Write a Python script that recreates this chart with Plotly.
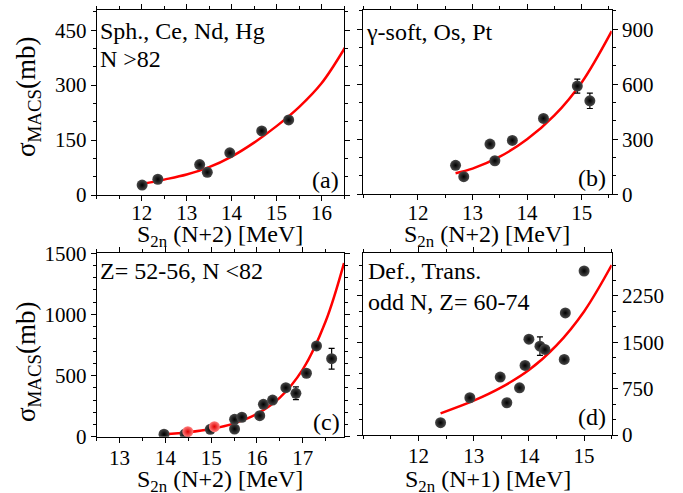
import plotly.graph_objects as go

W, H = 683, 493

# ---------------- data ----------------
# (a) Sph., Ce, Nd, Hg, N>82
a_x = [12.01, 12.36, 13.29, 13.46, 13.96, 14.67, 15.27]
a_y = [27, 43, 83, 62, 115, 175, 205]
a_fit_x = [12.01, 12.5, 13.0, 13.5, 14.0, 14.5, 15.0, 15.5, 16.0, 16.53]
a_fit_y = [30, 42, 56, 76, 105, 143, 188, 240, 305, 404]

# (b) gamma-soft, Os, Pt
b_x = [12.69, 12.84, 13.32, 13.41, 13.73, 14.30, 14.92, 15.15]
b_y = [158, 96, 274, 183, 294, 414, 590, 510]
b_err = [0, 0, 0, 0, 0, 0, 38, 42]
b_fit_x = [12.69, 13.0, 13.5, 14.0, 14.5, 15.0, 15.55]
b_fit_y = [115, 140, 205, 300, 430, 610, 890]

# (c) Z=52-56, N<82
c_x = [13.97, 14.43, 14.98, 15.51, 15.51, 15.67, 16.06, 16.14, 16.34, 16.63, 16.85, 17.08, 17.30, 17.63]
c_y = [20, 22, 60, 63, 142, 159, 172, 265, 300, 401, 355, 519, 742, 638]
c_err = [0, 0, 0, 0, 0, 0, 0, 0, 0, 0, 52, 0, 0, 85]
c_red_x = [14.49, 15.07]
c_red_y = [41, 82]
c_fit_x = [13.97, 14.5, 15.0, 15.5, 16.0, 16.5, 17.0, 17.5, 17.9]
c_fit_y = [21, 37, 63, 109, 187, 320, 550, 944, 1420]

# (d) Def., Trans., odd N, Z=60-74
d_x = [12.40, 12.93, 13.48, 13.60, 13.83, 13.93, 14.00, 14.20, 14.29, 14.64, 14.66, 15.00]
d_y = [199, 603, 937, 522, 764, 1125, 1550, 1437, 1384, 1222, 1976, 2654]
d_err = [0, 0, 0, 0, 0, 0, 0, 150, 0, 0, 0, 0]
d_fit_x = [12.4, 13.0, 13.5, 14.0, 14.5, 15.0, 15.5]
d_fit_y = [350, 555, 770, 1050, 1450, 2000, 2750]

# tick labels
a_xticks = [12, 13, 14, 15, 16]
a_yticks = [0, 150, 300, 450]
b_xticks = [12, 13, 14, 15]
b_yticks = [0, 300, 600, 900]
c_xticks = [13, 14, 15, 16, 17]
c_yticks = [0, 500, 1000, 1500]
d_xticks = [12, 13, 14, 15]
d_yticks = [0, 750, 1500, 2250]

# ---------------- layout helpers ----------------
FONT = "Liberation Serif, Times New Roman, Times, serif"

def fx(px):
    return px / W

def fy(py):
    return 1 - py / H

fig = go.Figure()

sphere = dict(color="#4a4a4a", size=11,
              gradient=dict(type="radial", color="#000000"),
              line=dict(width=0))
red_sphere = dict(color="#ff8080", size=11,
                  gradient=dict(type="radial", color="#e00000"),
                  line=dict(width=0))
fitline = dict(color="#ff0000", width=2.5, shape="spline")

def add_panel(i, fx_, fy_, px, py, perr=None):
    xa = "x" if i == 1 else f"x{i}"
    ya = "y" if i == 1 else f"y{i}"
    fig.add_trace(go.Scatter(x=fx_, y=fy_, mode="lines", line=fitline,
                             xaxis=xa, yaxis=ya, showlegend=False, hoverinfo="skip"))
    ed = None
    if perr is not None:
        ed = dict(type="data", array=perr, visible=True, color="black", thickness=1.2, width=3)
    fig.add_trace(go.Scatter(x=px, y=py, mode="markers", marker=sphere, error_y=ed,
                             xaxis=xa, yaxis=ya, showlegend=False))

add_panel(1, a_fit_x, a_fit_y, a_x, a_y)
add_panel(2, b_fit_x, b_fit_y, b_x, b_y, b_err)
add_panel(3, c_fit_x, c_fit_y, c_x, c_y, c_err)
fig.add_trace(go.Scatter(x=c_red_x, y=c_red_y, mode="markers", marker=red_sphere,
                         xaxis="x3", yaxis="y3", showlegend=False))
add_panel(4, d_fit_x, d_fit_y, d_x, d_y, d_err)

tickfont = dict(family=FONT, size=21, color="black")

def xax(dom, rng, tv, anchor, standoff):
    return dict(domain=dom, range=rng, anchor=anchor, tickmode="array", tickvals=tv,
                automargin=False, ticklabelstandoff=standoff,
                ticks="outside", ticklen=5, tickwidth=1, tickcolor="black",
                showline=True, linecolor="black", linewidth=1, mirror="ticks",
                showgrid=False, zeroline=False, tickfont=tickfont,
                minor=dict(dtick=0.5, tick0=0, ticks="outside", ticklen=3, tickcolor="black", showgrid=False))

def yax(dom, rng, tv, minor, anchor, side="left"):
    return dict(domain=dom, range=rng, anchor=anchor, side=side, tickmode="array", tickvals=tv,
                automargin=False,
                ticks="outside", ticklen=5, tickwidth=1, tickcolor="black",
                showline=True, linecolor="black", linewidth=1, mirror="ticks",
                showgrid=False, zeroline=False, tickfont=tickfont,
                minor=dict(dtick=minor, tick0=0, ticks="outside", ticklen=3, tickcolor="black", showgrid=False))

xa_dom = [fx(96.7), fx(344)]
xb_dom = [fx(363.3), fx(611.7)]
top_dom = [fy(195), fy(10)]
bot_dom = [fy(436.7), fy(253.3)]

fig.update_layout(
    template="none",
    width=W, height=H,
    margin=dict(l=0, r=0, t=0, b=0),
    paper_bgcolor="white", plot_bgcolor="white",
    font=dict(family=FONT, color="black"),
    xaxis=xax(xa_dom, [11, 16.5], a_xticks, "y", -6),
    yaxis=yax(top_dom, [0, 505], a_yticks, 50, "x"),
    xaxis2=xax(xb_dom, [11, 15.55], b_xticks, "y2", -6),
    yaxis2=yax([fy(194.3), fy(10)], [0, 1005], b_yticks, 100, "x2", side="right"),
    xaxis3=xax(xa_dom, [12.5, 17.9], c_xticks, "y3", -3),
    yaxis3=yax(bot_dom, [0, 1500], c_yticks, 100, "x3"),
    xaxis4=xax(xb_dom, [11, 15.5], d_xticks, "y4", -3),
    yaxis4=yax([fy(435), fy(252.7)], [0, 2950], d_yticks, 250, "x4", side="right"),
)

def ann(text, x, y, size, xanchor="left", angle=0):
    fig.add_annotation(text=text, x=fx(x), y=fy(y), xref="paper", yref="paper",
                       showarrow=False, xanchor=xanchor, yanchor="middle", textangle=angle,
                       font=dict(family=FONT, size=size, color="black"))

# panel texts
ann("Sph., Ce, Nd, Hg", 98, 31, 24)
ann("N >82", 98, 59, 24)
ann("γ-soft, Os, Pt", 364, 32, 24)
ann("Z= 52-56, N <82", 98, 271, 24)
ann("Def., Trans.", 366, 271, 24)
ann("odd N, Z= 60-74", 366, 302, 24)
ann("(a)", 325, 180, 24, "center")
ann("(b)", 592, 178, 24, "center")
ann("(c)", 326, 422, 24, "center")
ann("(d)", 592, 417, 24, "center")

# axis titles
ytitle = "σ<sub>MACS</sub>(mb)"
ann(ytitle, 28, 97, 27, "center", -90)
ann(ytitle, 28, 362, 27, "center", -90)
ann("S<sub>2n</sub> (N+2) [MeV]", 220, 236, 24, "center")
ann("S<sub>2n</sub> (N+2) [MeV]", 487, 236, 24, "center")
ann("S<sub>2n</sub> (N+2) [MeV]", 220, 481, 24, "center")
ann("S<sub>2n</sub> (N+1) [MeV]", 488, 481, 24, "center")

fig.write_html("out.html", config={"displayModeBar": False},
               post_script="document.body.style.margin='0';document.body.style.overflow='hidden';")
